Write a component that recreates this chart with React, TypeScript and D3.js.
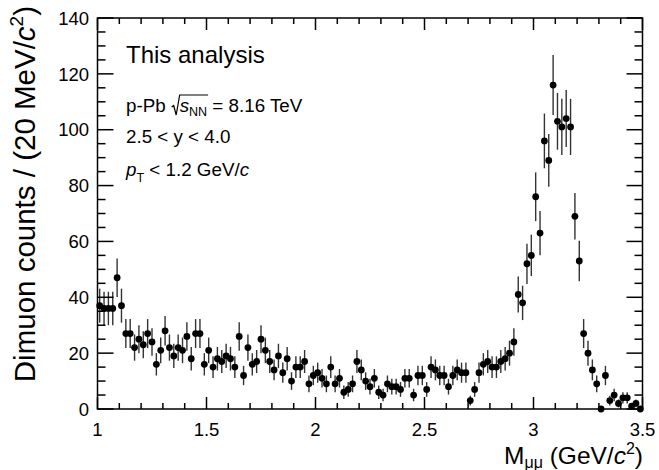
import { useEffect, useRef } from "react";
import * as d3 from "d3";

// dimuon invariant mass spectrum, 20 MeV/c^2 bins between 1.0 and 3.5 GeV/c^2
const massMin = 1.0;
const massMax = 3.5;
const binWidth = 0.02;

// counts per bin (125 bins)
const counts = [
  37, 36, 36, 36, 47, 37, 27, 27, 22, 25,
  23, 27, 24, 16, 21, 28, 22, 19, 22, 21,
  26, 18, 27, 27, 16, 21, 15, 18, 17, 19,
  18, 15, 26, 12, 22, 16, 17, 25, 21, 17,
  14, 19, 13, 18, 10, 15, 15, 17, 9, 12,
  13, 11, 9, 15, 9, 11, 6, 7, 9, 17,
  14, 10, 8, 11, 6, 5, 9, 8, 8, 7,
  11, 11, 5, 12, 12, 7, 15, 14, 12, 12,
  8, 12, 14, 13, 13, 3, 7, 13, 16, 17,
  15, 15, 17, 18, 20, 24, 41, 38, 52, 55,
  76, 63, 96, 89, 116, 103, 101, 104, 101, 69,
  53, 27, 20, 14, 9, 0, 12, 3, 5, 2,
  4, 4, 1, 2, 0,
];

const xTickValues = [1, 1.5, 2, 2.5, 3, 3.5];
const xTickLabels = ["1", "1.5", "2", "2.5", "3", "3.5"];
const yTickValues = [0, 20, 40, 60, 80, 100, 120, 140];

const FONT = "'Liberation Sans', Arial, Helvetica, sans-serif";

export default function App() {
  const svgRef = useRef<SVGSVGElement | null>(null);

  useEffect(() => {
    if (!svgRef.current) return;

    const m = { left: 97.5, right: 642.5, top: 18, bottom: 409 };
    const svg = d3.select(svgRef.current);
    svg.selectAll("*").remove(); // start clean

    const x = d3.scaleLinear().domain([massMin, massMax]).range([m.left, m.right]);
    const y = d3.scaleLinear().domain([0, 140]).range([m.bottom, m.top]);

    const data = counts.map((n, i) => ({
      mass: massMin + binWidth * (i + 0.5),
      n,
      err: Math.sqrt(n),
    }));

    svg.append("rect")
      .attr("width", 659).attr("height", 470).attr("fill", "#fff");

    // error bars
    svg.append("g")
      .selectAll("line")
      .data(data.filter(d => d.n > 0))
      .join("line")
      .attr("x1", d => x(d.mass)).attr("x2", d => x(d.mass))
      .attr("y1", d => y(d.n - d.err)).attr("y2", d => y(d.n + d.err))
      .attr("stroke", "#333").attr("stroke-width", 1.4);

    // markers
    svg.append("g")
      .selectAll("circle")
      .data(data)
      .join("circle")
      .attr("cx", d => x(d.mass)).attr("cy", d => y(d.n))
      .attr("r", 3.4).attr("fill", "#000");

    // frame + ticks on all sides
    const ax = svg.append("g").attr("stroke", "#000").attr("stroke-width", 1.5);
    ax.append("rect")
      .attr("x", m.left).attr("y", m.top)
      .attr("width", m.right - m.left).attr("height", m.bottom - m.top)
      .attr("fill", "none");

    const xMinor = d3.range(0, 26).map(k => massMin + k * 0.1);
    xMinor.forEach(v => {
      const major = xTickValues.some(t => Math.abs(t - v) < 1e-6);
      const len = major ? 12 : 6;
      ax.append("line").attr("x1", x(v)).attr("x2", x(v)).attr("y1", m.bottom).attr("y2", m.bottom - len);
      ax.append("line").attr("x1", x(v)).attr("x2", x(v)).attr("y1", m.top).attr("y2", m.top + len);
    });
    d3.range(0, 141, 5).forEach(v => {
      const len = v % 20 === 0 ? 16 : 8;
      ax.append("line").attr("x1", m.left).attr("x2", m.left + len).attr("y1", y(v)).attr("y2", y(v));
      ax.append("line").attr("x1", m.right).attr("x2", m.right - len).attr("y1", y(v)).attr("y2", y(v));
    });

    // tick labels
    const lab = svg.append("g").attr("font-family", FONT).attr("font-size", 18.5).attr("fill", "#000");
    xTickValues.forEach((v, i) => {
      lab.append("text").attr("x", x(v)).attr("y", 435.5)
        .attr("text-anchor", "middle").text(xTickLabels[i]);
    });
    yTickValues.forEach(v => {
      lab.append("text").attr("x", 89).attr("y", y(v)).attr("dy", "0.36em")
        .attr("text-anchor", "end").text(String(v));
    });

    // axis titles
    const xt = svg.append("text")
      .attr("font-family", FONT).attr("font-size", 24.5)
      .attr("x", 643).attr("y", 464).attr("text-anchor", "end");
    xt.append("tspan").text("M");
    xt.append("tspan").attr("font-size", 16).attr("dy", 4).text("μμ");
    xt.append("tspan").attr("dy", -4).text(" (GeV/");
    xt.append("tspan").attr("font-style", "italic").text("c");
    xt.append("tspan").attr("font-size", 16).attr("dy", -10).text("2");
    xt.append("tspan").attr("dy", 10).text(")");

    const yt = svg.append("text")
      .attr("font-family", FONT).attr("font-size", 29.5)
      .attr("transform", "translate(35,6) rotate(-90)")
      .attr("text-anchor", "end");
    yt.append("tspan").text("Dimuon counts / (20 MeV/");
    yt.append("tspan").attr("font-style", "italic").text("c");
    yt.append("tspan").attr("font-size", 19).attr("dy", -12).text("2");
    yt.append("tspan").attr("dy", 12).text(")");

    // annotations
    const ann = svg.append("g").attr("font-family", FONT).attr("fill", "#000");
    ann.append("text").attr("x", 126).attr("y", 63).attr("font-size", 24).text("This analysis");

    const pp = ann.append("text").attr("x", 126).attr("y", 112).attr("font-size", 18.8);
    pp.append("tspan").text("p-Pb");
    pp.append("tspan").attr("dx", 14).attr("font-style", "italic").text("s");
    pp.append("tspan").attr("font-size", 12.5).attr("dy", 4).text("NN");
    pp.append("tspan").attr("dy", -4).text(" = 8.16 TeV");
    const ppNode = pp.node() as SVGTextElement;
    const sx = ppNode.getStartPositionOfChar(4).x;
    const ex = ppNode.getEndPositionOfChar(6).x;
    ann.append("path")
      .attr("d", `M${sx - 8},107 L${sx - 6},105.5 L${sx - 3.5},115 L${sx},95 L${ex + 1},95`)
      .attr("fill", "none").attr("stroke", "#000").attr("stroke-width", 1.2);

    ann.append("text").attr("x", 126).attr("y", 143).attr("font-size", 18.8).text("2.5 < y < 4.0");

    const pt = ann.append("text").attr("x", 126).attr("y", 176).attr("font-size", 18.8);
    pt.append("tspan").attr("font-style", "italic").text("p");
    pt.append("tspan").attr("font-size", 12.5).attr("dy", 6).text("T");
    pt.append("tspan").attr("dy", -6).text(" < 1.2 GeV/");
    pt.append("tspan").attr("font-style", "italic").text("c");
  }, []);

  return (
    <svg
      ref={svgRef}
      width={659}
      height={470}
      style={{ position: "absolute", left: 0, top: 0, display: "block" }}
    />
  );
}
